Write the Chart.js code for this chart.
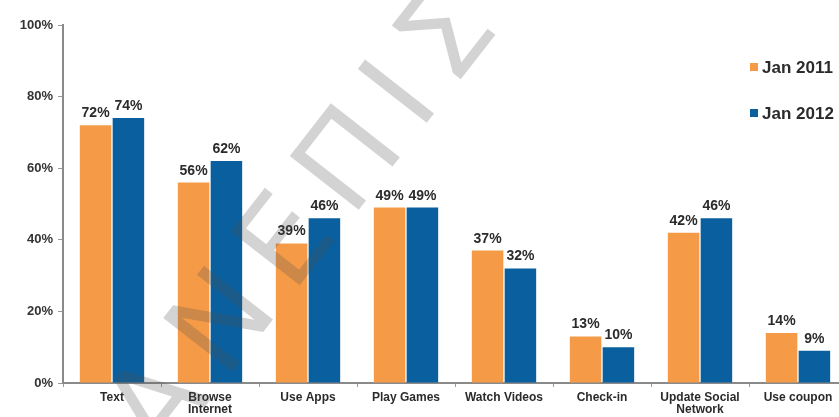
<!DOCTYPE html>
<html lang="en">
<head>
    <meta charset="UTF-8">
    <title>Mobile activities Jan 2011 vs Jan 2012</title>
    <script src="https://cdn.jsdelivr.net/npm/chart.js"></script>
    <style>
        body { margin: 0; background: #fff; overflow: hidden; font-family: 'Liberation Sans', Arial, sans-serif; }
        .wrap { position: relative; width: 839px; height: 417px; overflow: hidden; }
        #chart { position: absolute; left: 0; top: 0; }
        .leg { position: absolute; left: 750px; font-weight: bold; font-size: 17px; color: #2b2b2b; line-height: 20px; white-space: nowrap; }
        .leg i { display: inline-block; width: 8px; height: 8px; margin-right: 4px; vertical-align: 2px; }
        .wm { position: absolute; left: 62px; top: 463px; font-family: 'DejaVu Sans', sans-serif; font-size: 120px; line-height: 120px; letter-spacing: 20px;
              color: rgba(80,80,80,0.25); white-space: nowrap; transform-origin: 0 50%; transform: rotate(-52deg); pointer-events: none; }
    </style>
</head>
<body>
    <div class="wrap">
        <canvas id="chart" width="860" height="417"></canvas>
        <div class="leg" style="top:58px"><i style="background:#F59B47"></i>Jan 2011</div>
        <div class="leg" style="top:104px"><i style="background:#0A5F9E"></i>Jan 2012</div>
        <div class="wm">ΠΑΝΕΠΙΣΤΗΜΙΟ</div>
    </div>

    <script>
        // datos
        const categories = ['Text', ['Browse', 'Internet'], 'Use Apps', 'Play Games', 'Watch Videos', 'Check-in', ['Update Social', 'Network'], 'Use coupon'];
        const jan2011 = [72, 56, 39, 49, 37, 13, 42, 14];
        const jan2012 = [74, 62, 46, 49, 32, 10, 46, 9];
        const yTicks = [0, 20, 40, 60, 80, 100];

        const labelPlugin = {
            id: 'barLabels',
            afterDatasetsDraw(chart) {
                const ctx = chart.ctx;
                ctx.save();
                ctx.font = 'bold 14px "Liberation Sans", Arial, sans-serif';
                ctx.fillStyle = '#2b2b2b';
                ctx.textAlign = 'center';
                ctx.textBaseline = 'alphabetic';
                chart.data.datasets.forEach((ds, i) => {
                    chart.getDatasetMeta(i).data.forEach((bar, j) => {
                        ctx.fillText(ds.data[j] + '%', bar.x, bar.y - 8);
                    });
                });
                ctx.restore();
            }
        };

        new Chart(document.getElementById('chart'), {
            type: 'bar',
            data: {
                labels: categories,
                datasets: [
                    { label: 'Jan 2011', data: jan2011, backgroundColor: '#F59B47', categoryPercentage: 0.67, barPercentage: 0.96 },
                    { label: 'Jan 2012', data: jan2012, backgroundColor: '#0A5F9E', categoryPercentage: 0.67, barPercentage: 0.96 }
                ]
            },
            options: {
                responsive: false,
                animation: false,
                layout: { padding: { top: 25, right: 13, left: 0, bottom: 0 } },
                plugins: { legend: { display: false }, tooltip: { enabled: false } },
                scales: {
                    x: {
                        afterFit: s => { s.height = 34; },
                        border: { display: true, color: '#8a8a8a', width: 2 },
                        grid: { display: true, offset: true, drawOnChartArea: false, drawTicks: true, tickLength: 4, color: '#9a9a9a' },
                        ticks: { color: '#2b2b2b', padding: 5, maxRotation: 0, autoSkip: false,
                                 font: { family: '"Liberation Sans", Arial, sans-serif', size: 12, weight: 'bold', lineHeight: 1.0 } }
                    },
                    y: {
                        min: 0, max: 100,
                        afterFit: s => { s.width = 63; },
                        afterBuildTicks: s => { s.ticks = yTicks.map(v => ({ value: v })); },
                        border: { display: true, color: '#8a8a8a', width: 2 },
                        grid: { display: true, drawOnChartArea: false, drawTicks: true, tickLength: 5, color: '#9a9a9a' },
                        ticks: { color: '#333', padding: 5, callback: v => v + '%',
                                 font: { family: '"Liberation Sans", Arial, sans-serif', size: 13, weight: 'bold' } }
                    }
                }
            },
            plugins: [labelPlugin]
        });
    </script>
</body>
</html>
